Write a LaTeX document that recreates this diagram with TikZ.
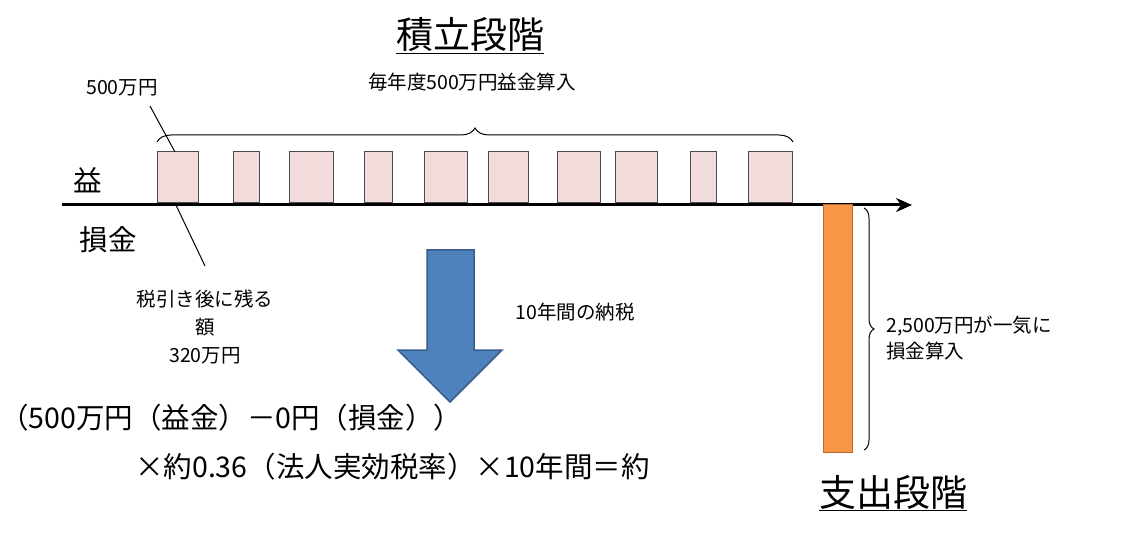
\documentclass[tikz,border=0pt]{standalone}
\usepackage{fontspec}
\setmainfont{Noto Sans CJK JP}
\usetikzlibrary{decorations.pathreplacing,arrows.meta}
\definecolor{pinkf}{HTML}{F2DCDB}
\definecolor{bluef}{HTML}{4F81BD}
\definecolor{blued}{HTML}{385D8A}
\definecolor{orangef}{HTML}{F79646}
\definecolor{oranged}{HTML}{B66D31}
\begin{document}
\begin{tikzpicture}[x=1pt,y=-1pt,
  bar/.style={draw=black!70,fill=pinkf,line width=1pt},
  lbl/.style={font=\fontsize{19.5}{22}\selectfont,inner sep=0pt},
  big/.style={font=\fontsize{28.5}{32}\selectfont,inner sep=0pt},
  ttl/.style={font=\fontsize{37}{40}\selectfont,inner sep=0pt}]
\useasboundingbox (0,0) rectangle (1126,537);
\node[ttl] (t1) at (470,36) {\underline{積立段階}};
\node[lbl] (t2) at (472,82) {毎年度500万円益金算入};
\node[lbl] (l500) at (122,88) {500万円};
\draw[decorate,decoration={brace,amplitude=14pt},line width=1pt] (157,142) -- (793,142);
\foreach \a/\b [count=\i] in {157/198,233/259,289/333,364/392,424/467,488/528,557/600,615/657,690/716,748/792}
  \draw[bar] (\a,152) rectangle (\b,203) coordinate (b\i);
\coordinate (b1tl) at (175,152);
\coordinate (b1bl) at (175,203);
\draw[line width=1pt] (150,106) -- (b1tl);
\draw[line width=3pt,-{Stealth[length=16pt,width=14pt]}] (62,205) -- (912,205);
\node[big] (eki) at (88,180) {益};
\node[big] (son) at (108,240) {損金};
\node[lbl,align=center] (zei) at (205,327) {税引き後に残る\\[6pt]額\\[6pt]320万円};
\coordinate (zt) at (205,266);
\draw[line width=1pt] (b1bl) -- (zt);
\draw[fill=bluef,draw=blued,line width=1.5pt] (427,250) -- (474,250) -- (474,350) -- (502,350) -- (450,402) -- (398,350) -- (427,350) -- cycle;
\node[lbl] (nz) at (575,312) {10年間の納税};
\node[big,anchor=west] (f1) at (0,418) {（500万円（益金）－0円（損金））};
\node[big,anchor=west] (f2) at (135,467) {×約0.36（法人実効税率）×10年間＝約};
\draw[fill=orangef,draw=oranged,line width=1pt] (823,205) rectangle (852,452);
\draw[decorate,decoration={brace,amplitude=10pt},line width=1pt] (864,208) -- (864,450);
\node[lbl,align=left,anchor=west] (r) at (886,338) {2,500万円が一気に\\[4pt]損金算入};
\node[ttl] (t3) at (893,493) {\underline{支出段階}};
\end{tikzpicture}
\end{document}
